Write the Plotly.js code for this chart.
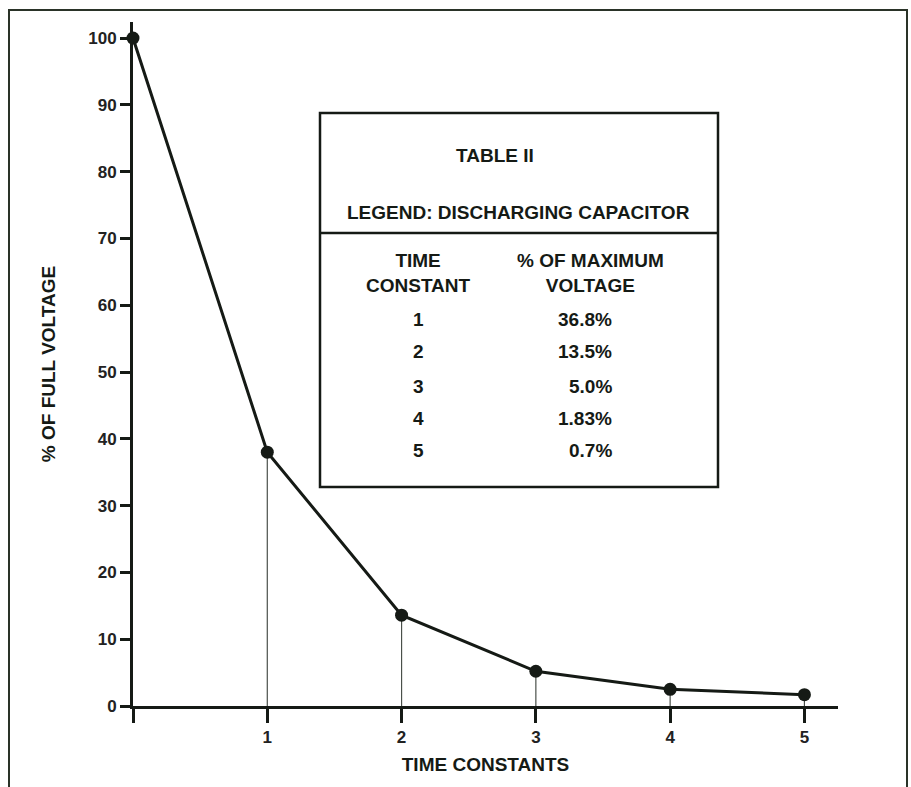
<!DOCTYPE html>
<html>
<head>
<meta charset="utf-8">
<script src="https://cdn.plot.ly/plotly-3.0.1.min.js"></script>
<style>
html,body{margin:0;padding:0;background:#fff;}
#chart{width:911px;height:787px;}
</style>
</head>
<body>
<div id="chart"></div>
<script>
// Data
var timeConstants = [0, 1, 2, 3, 4, 5];
var percentFullVoltage = [100, 38, 13.6, 5.2, 2.5, 1.7];
var xTickVals = [0, 1, 2, 3, 4, 5];
var xTickText = ['', '1', '2', '3', '4', '5'];
var yTickVals = [0, 10, 20, 30, 40, 50, 60, 70, 80, 90, 100];

// Table II contents
var tableTitle = 'TABLE II';
var tableLegend = 'LEGEND: DISCHARGING CAPACITOR';
var tableHeaders = ['TIME<br>CONSTANT', '% OF MAXIMUM<br>VOLTAGE'];
var tableTimeConstants = ['1', '2', '3', '4', '5'];
var tableMaxVoltage = ['36.8%', '13.5%', '5.0%', '1.83%', '0.7%'];

var FONT = '"Liberation Sans", Arial, Helvetica, sans-serif';
var INK = '#151a15';

// drop lines from each point to the x axis
var dropX = [], dropY = [];
for (var i = 1; i < timeConstants.length; i++) {
  dropX.push(timeConstants[i], timeConstants[i], null);
  dropY.push(0, percentFullVoltage[i], null);
}

var traces = [
  {
    x: dropX, y: dropY, mode: 'lines', type: 'scatter',
    line: {color: '#4a504a', width: 1.2},
    hoverinfo: 'skip', showlegend: false
  },
  {
    x: timeConstants, y: percentFullVoltage, mode: 'lines+markers', type: 'scatter',
    line: {color: INK, width: 3},
    marker: {color: INK, size: 13},
    showlegend: false, cliponaxis: false
  }
];

// plot area in px: left 133, right 838, top 22, bottom 706
var L = 133, R = 838, T = 22, B = 706;
function px(x) { return (x - L) / (R - L); }
function py(y) { return (B - y) / (B - T); }

var shapes = [
  // outer frame (left, top, right)
  {type: 'path', xref: 'paper', yref: 'paper',
   path: 'M ' + px(9) + ' ' + py(800) + ' L ' + px(9) + ' ' + py(10) + ' L ' + px(907) + ' ' + py(10) + ' L ' + px(907) + ' ' + py(800),
   line: {color: '#2a3328', width: 2}},
  // table box
  {type: 'rect', xref: 'paper', yref: 'paper',
   x0: px(320), x1: px(718), y0: py(487), y1: py(113),
   line: {color: INK, width: 2.5}, fillcolor: 'rgba(255,255,255,1)'},
  // table divider
  {type: 'line', xref: 'paper', yref: 'paper',
   x0: px(320), x1: px(718), y0: py(233), y1: py(233),
   line: {color: INK, width: 2.5}}
];

var tfont = {family: FONT, size: 19, color: INK, weight: 'bold'};
var annotations = [
  {text: tableTitle, x: px(495), y: py(143), xref: 'paper', yref: 'paper', showarrow: false, font: tfont},
  {text: tableLegend, x: px(518), y: py(200), xref: 'paper', yref: 'paper', showarrow: false, font: tfont},
  {text: tableHeaders[0], x: px(418), y: py(273), xref: 'paper', yref: 'paper', showarrow: false, font: tfont},
  {text: tableHeaders[1], x: px(590), y: py(273), xref: 'paper', yref: 'paper', showarrow: false, font: tfont}
];
var rowY = [319, 352, 386, 418, 450];
for (var r = 0; r < tableTimeConstants.length; r++) {
  annotations.push({text: tableTimeConstants[r], x: px(418), y: py(rowY[r]), xref: 'paper', yref: 'paper', showarrow: false, font: tfont});
  annotations.push({text: tableMaxVoltage[r], x: px(614), xanchor: 'right', y: py(rowY[r]), xref: 'paper', yref: 'paper', showarrow: false, font: tfont});
}

var layout = {
  width: 911, height: 787,
  margin: {l: L, r: 911 - R, t: T, b: 787 - B, pad: 0},
  paper_bgcolor: '#ffffff', plot_bgcolor: '#ffffff',
  font: {family: FONT, color: INK},
  showlegend: false,
  xaxis: {
    range: [0, 5.25], showgrid: false, zeroline: false,
    showline: true, linecolor: INK, linewidth: 3,
    ticks: 'outside', ticklen: 14, tickwidth: 3, tickcolor: INK,
    tickvals: xTickVals, ticktext: xTickText,
    tickfont: {family: FONT, size: 17, color: '#222', weight: 'bold'},
    title: {text: 'TIME CONSTANTS', standoff: 12, font: {family: FONT, size: 19, color: INK, weight: 'bold'}},
    automargin: false, fixedrange: true
  },
  yaxis: {
    range: [0, 102.4], showgrid: false, zeroline: false,
    showline: true, linecolor: INK, linewidth: 3,
    ticks: 'outside', ticklen: 10, tickwidth: 3, tickcolor: INK,
    tickvals: yTickVals,
    tickfont: {family: FONT, size: 17, color: '#222', weight: 'bold'},
    title: {text: '% OF FULL VOLTAGE', standoff: 28, font: {family: FONT, size: 19, color: INK, weight: 'bold'}},
    automargin: false, fixedrange: true
  },
  shapes: shapes,
  annotations: annotations
};

Plotly.newPlot('chart', traces, layout, {displayModeBar: false, staticPlot: true});
</script>
</body>
</html>
